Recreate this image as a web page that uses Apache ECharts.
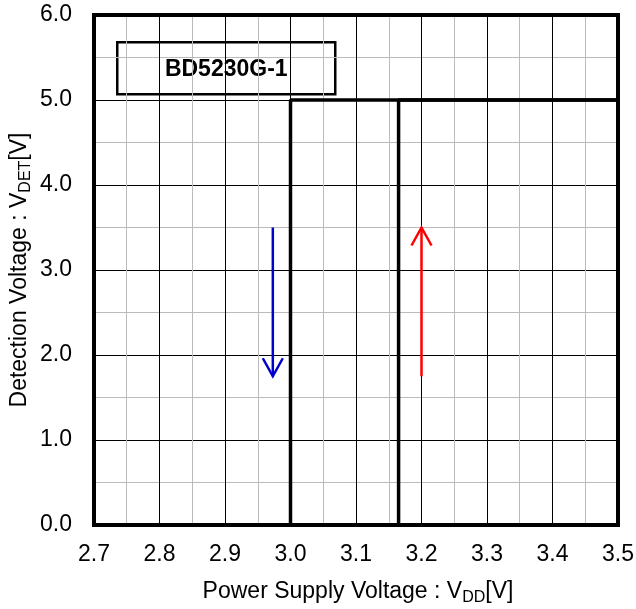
<!DOCTYPE html>
<html><head><meta charset="utf-8">
<script src="https://cdn.jsdelivr.net/npm/echarts@6/dist/echarts.min.js"></script>
<style>html,body{margin:0;padding:0;background:#fff}#c{width:636px;height:609px}</style>
</head><body><div id="c"></div>
<script>
// Data
const xTicks = [2.7, 2.8, 2.9, 3.0, 3.1, 3.2, 3.3, 3.4, 3.5];
const yTicks = [0, 1, 2, 3, 4, 5, 6];
const fallingX = [3.0, 3.0, 3.5];     // VDD falling: detection at 3.0 V
const fallingY = [0, 5.0, 5.0];
const risingX = [3.165, 3.165, 3.5];  // VDD rising: release at ~3.165 V
const risingY = [0, 5.0, 5.0];
// arrows: [x, yStart, yEnd]
const arrowDown = [2.973, 3.5, 1.75];
const arrowUp = [3.2, 1.75, 3.5];
const legendLabel = 'BD5230G-1';
const xName = ['Power Supply Voltage : V', 'DD', '[V]'];
const yName = ['Detection Voltage : V', 'DET', '[V]'];

const font = 'Arial, "Liberation Sans", sans-serif';
const chart = echarts.init(document.getElementById('c'));

function arrowSeries(arr, color) {
  return {
    type: 'custom', z: 5,
    data: [arr],
    renderItem: function (params, api) {
      const p0 = api.coord([api.value(0), api.value(1)]);
      const p1 = api.coord([api.value(0), api.value(2)]);
      const dir = p1[1] > p0[1] ? 1 : -1;
      const hl = 18, hw = 10;
      return {
        type: 'group',
        children: [
          { type: 'line', shape: { x1: p0[0], y1: p0[1], x2: p1[0], y2: p1[1] }, style: { stroke: color, lineWidth: 2.5 } },
          { type: 'polyline', shape: { points: [[p1[0] - hw, p1[1] - dir * hl], [p1[0], p1[1]], [p1[0] + hw, p1[1] - dir * hl]] }, style: { stroke: color, lineWidth: 2.5, fill: null } }
        ]
      };
    }
  };
}

const richName = {
  n: { fontFamily: font, fontSize: 23, color: '#000' },
  s: { fontFamily: font, fontSize: 16, color: '#000', padding: [11, 0, 0, 0] }
};

chart.setOption({
  animation: false,
  backgroundColor: '#fff',
  grid: { left: 94, right: 18, top: 15, bottom: 84, outerBoundsMode: 'none', containLabel: false, show: true, borderColor: '#000', borderWidth: 4, backgroundColor: 'transparent', z: 10 },
  xAxis: {
    type: 'value', min: xTicks[0], max: xTicks[xTicks.length - 1], interval: 0.1,
    axisLine: { show: false }, axisTick: { show: false },
    axisLabel: { fontFamily: font, fontSize: 23, color: '#000', margin: 18, formatter: v => v.toFixed(1) },
    splitLine: { show: true, lineStyle: { color: '#000', width: 1 } },
    minorTick: { show: false, splitNumber: 2 },
    minorSplitLine: { show: true, lineStyle: { color: '#bbb', width: 1 } }
  },
  yAxis: {
    type: 'value', min: yTicks[0], max: yTicks[yTicks.length - 1], interval: 1,
    axisLine: { show: false }, axisTick: { show: false },
    axisLabel: { fontFamily: font, fontSize: 23, color: '#000', margin: 22, formatter: v => v.toFixed(1) },
    splitLine: { show: true, lineStyle: { color: '#000', width: 1 } },
    minorTick: { show: false, splitNumber: 2 },
    minorSplitLine: { show: true, lineStyle: { color: '#bbb', width: 1 } }
  },
  graphic: [{
    type: 'group', left: 116, top: 41, z: 20,
    children: [
      { type: 'rect', shape: { x: 0, y: 0, width: 218, height: 52 }, style: { fill: '#fff', stroke: '#000', lineWidth: 2.5 } },
      { type: 'text', x: 109, y: 27, style: { text: legendLabel, font: 'bold 23px ' + font, fill: '#000', align: 'center', verticalAlign: 'middle' } }
    ]
  }, {
    type: 'text', x: 358, y: 592, z: 20,
    style: { text: '{n|' + xName[0] + '}{s|' + xName[1] + '}{n|' + xName[2] + '}', rich: richName, align: 'center', verticalAlign: 'middle' }
  }, {
    type: 'text', x: 20, y: 270, rotation: Math.PI / 2, z: 20,
    style: { text: '{n|' + yName[0] + '}{s|' + yName[1] + '}{n|' + yName[2] + '}', rich: richName, align: 'center', verticalAlign: 'middle' }
  }],
  series: [
    { type: 'line', data: fallingX.map((x, i) => [x, fallingY[i]]), symbol: 'none', lineStyle: { color: '#000', width: 3.5 }, z: 4 },
    { type: 'line', data: risingX.map((x, i) => [x, risingY[i]]), symbol: 'none', lineStyle: { color: '#000', width: 3.5 }, z: 4 },
    arrowSeries(arrowDown, '#0000cc'),
    arrowSeries(arrowUp, '#ff0000')
  ]
});
</script></body></html>
